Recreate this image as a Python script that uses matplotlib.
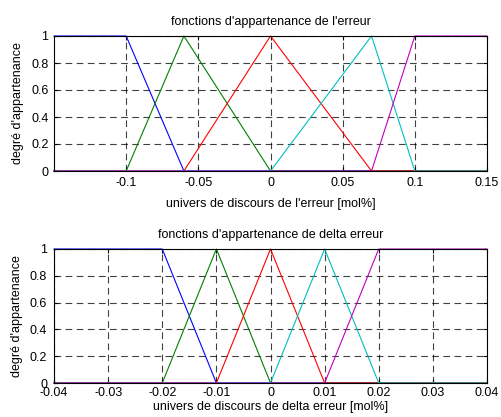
import matplotlib
matplotlib.use("Agg")
import matplotlib.pyplot as plt
import numpy as np

plt.rcParams["font.family"] = ["Liberation Sans", "DejaVu Sans"]
plt.rcParams["font.size"] = 9

# membership functions of the error (breakpoints x, membership y)
err_x = [
    [-0.15, -0.1, -0.06, 0.15],
    [-0.15, -0.1, -0.06, 0.0, 0.15],
    [-0.15, -0.06, 0.0, 0.07, 0.15],
    [-0.15, 0.0, 0.07, 0.1, 0.15],
    [-0.15, 0.07, 0.1, 0.15],
]
err_y = [
    [1, 1, 0, 0],
    [0, 0, 1, 0, 0],
    [0, 0, 1, 0, 0],
    [0, 0, 1, 0, 0],
    [0, 0, 1, 1],
]
err_ticks = [-0.1, -0.05, 0, 0.05, 0.1, 0.15]
err_labels = ["-0.1", "-0.05", "0", "0.05", "0.1", "0.15"]

# membership functions of delta error
derr_x = [
    [-0.04, -0.02, -0.01, 0.04],
    [-0.04, -0.02, -0.01, 0.0, 0.04],
    [-0.04, -0.01, 0.0, 0.01, 0.04],
    [-0.04, 0.0, 0.01, 0.02, 0.04],
    [-0.04, 0.01, 0.02, 0.04],
]
derr_y = [
    [1, 1, 0, 0],
    [0, 0, 1, 0, 0],
    [0, 0, 1, 0, 0],
    [0, 0, 1, 0, 0],
    [0, 0, 1, 1],
]
derr_ticks = [-0.04, -0.03, -0.02, -0.01, 0, 0.01, 0.02, 0.03, 0.04]
derr_labels = ["-0.04", "-0.03", "-0.02", "-0.01", "0", "0.01", "0.02", "0.03", "0.04"]

y_ticks = [0, 0.2, 0.4, 0.6, 0.8, 1]
y_labels = ["0", "0.2", "0.4", "0.6", "0.8", "1"]
colors = ["#0000ff", "#008000", "#ff0000", "#00bfbf", "#bf00bf"]


def draw(ax, xs, ys, xlim, ticks, labels, title, xlabel):
    for x, y, c in zip(xs, ys, colors):
        ax.plot(x, y, color=c, linewidth=0.8, clip_on=False)
    ax.set_xlim(*xlim)
    ax.set_ylim(0, 1)
    ax.set_xticks(ticks)
    ax.set_xticklabels(labels)
    ax.set_yticks(y_ticks)
    ax.set_yticklabels(y_labels)
    ax.grid(True, color="black", linestyle=(0, (6, 4)), linewidth=0.8, alpha=0.75)
    ax.tick_params(direction="in", length=3, right=True, top=True, pad=4)
    for s in ax.spines.values():
        s.set_linewidth(0.8)
    ax.set_title(title, fontsize=9, pad=8)
    ax.set_xlabel(xlabel, labelpad=7)
    ax.set_ylabel("degré d'appartenance", labelpad=5)


fig = plt.figure(figsize=(5.01, 4.17), dpi=100)
ax1 = fig.add_axes([54 / 501, 1 - 171 / 417, 433 / 501, 135 / 417])
ax2 = fig.add_axes([54 / 501, 1 - 383 / 417, 433 / 501, 134 / 417])

draw(ax1, err_x, err_y, (-0.15, 0.15), err_ticks, err_labels,
     "fonctions d'appartenance de l'erreur",
     "univers de discours de l'erreur [mol%]")
draw(ax2, derr_x, derr_y, (-0.04, 0.04), derr_ticks, derr_labels,
     "fonctions d'appartenance de delta erreur",
     "univers de discours de delta erreur [mol%]")
ax2.xaxis.labelpad = 1
ax2.tick_params(axis="x", pad=3)
ax2.tick_params(axis="y", pad=5)

fig.savefig("out.png", dpi=100)
